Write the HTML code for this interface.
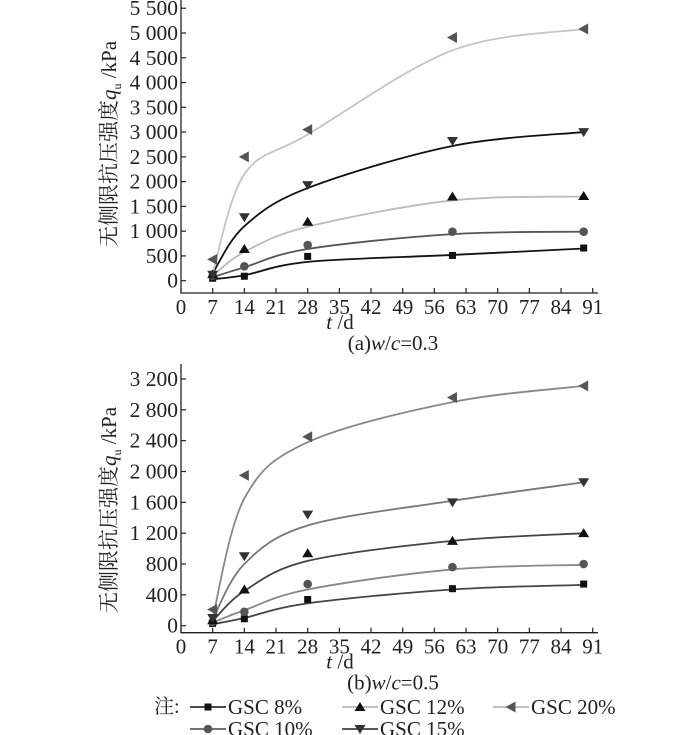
<!DOCTYPE html>
<html><head><meta charset="utf-8"><style>
html,body{margin:0;padding:0;background:#fff;width:700px;height:735px;overflow:hidden}
svg text{font-family:"Liberation Serif","Noto Serif CJK SC",serif;fill:#222}
</style></head><body>
<svg id="chart" width="700" height="735" viewBox="0 0 700 735" xmlns="http://www.w3.org/2000/svg"></svg>
<script>
const days = [7,14,28,60,89];
const seriesNames = ['GSC 8%','GSC 10%','GSC 12%','GSC 15%','GSC 20%'];
const xTicks = [0,7,14,21,28,35,42,49,56,63,70,77,84,91];
// panel a (w/c=0.3) measured
const a8 = [50,90,490,510,660];
const a10 = [100,290,720,990,990];
const a12 = [130,640,1190,1700,1710];
const a15 = [120,1280,1930,2820,3000];
const a20 = [430,2500,3050,4910,5080];
// panel a fitted curves
const aFit8 = [30,110,380,520,650];
const aFit10 = [70,270,640,940,990];
const aFit12 = [100,580,1090,1620,1700];
const aFit15 = [150,1100,1870,2720,3000];
const aFit20 = [150,2150,2950,4650,5080];
const aYTicks = [0,500,1000,1500,2000,2500,3000,3500,4000,4500,5000,5500];
const aYLabels = ['0','500','1 000','1 500','2 000','2 500','3 000','3 500','4 000','4 500','5 000','5 500'];
// panel b (w/c=0.5)
const b8 = [30,90,340,480,540];
const b10 = [50,180,540,760,800];
const b12 = [70,470,940,1100,1200];
const b15 = [100,900,1440,1600,1860];
const b20 = [210,1950,2450,2960,3110];
const bFit8 = [20,100,290,470,530];
const bFit10 = [40,200,470,730,790];
const bFit12 = [60,450,840,1100,1200];
const bFit15 = [80,800,1300,1620,1860];
const bFit20 = [100,1650,2380,2900,3110];
const bYTicks = [0,400,800,1200,1600,2000,2400,2800,3200];
const bYLabels = ['0','400','800','1 200','1 600','2 000','2 400','2 800','3 200'];

const NS='http://www.w3.org/2000/svg';
const svg=document.getElementById('chart');
function mk(tag,attrs,parent){const e=document.createElementNS(NS,tag);for(const k in attrs)e.setAttribute(k,attrs[k]);(parent||svg).appendChild(e);return e;}
const xs=d=>181+d*(31.67/7);
const markerFill=['#111','#555','#111','#333','#555'];

function marker(type,x,y,g,c){
  let e;
  if(type===0) e=mk('rect',{x:x-3.5,y:y-3.5,width:7,height:7,fill:c},g);
  else if(type===1) e=mk('circle',{cx:x,cy:y,r:4.3,fill:c},g);
  else if(type===2) e=mk('polygon',{points:`${x},${y-5} ${x-5.5},${y+4} ${x+5.5},${y+4}`,fill:c},g);
  else if(type===3) e=mk('polygon',{points:`${x},${y+5} ${x-5.5},${y-4} ${x+5.5},${y-4}`,fill:c},g);
  else e=mk('polygon',{points:`${x-5.5},${y} ${x+4.5},${y-5.5} ${x+4.5},${y+5.5}`,fill:c},g);
  return e;
}
function smooth(pts){
  let d=`M${pts[0][0]},${pts[0][1]}`;
  for(let i=0;i<pts.length-1;i++){
    const p0=pts[Math.max(0,i-1)],p1=pts[i],p2=pts[i+1],p3=pts[Math.min(pts.length-1,i+2)];
    const c1=[p1[0]+(p2[0]-p0[0])/6,p1[1]+(p2[1]-p0[1])/6];
    const c2=[p2[0]-(p3[0]-p1[0])/6,p2[1]-(p3[1]-p1[1])/6];
    d+=` C${c1[0]},${c1[1]} ${c2[0]},${c2[1]} ${p2[0]},${p2[1]}`;
  }
  return d;
}
function panel(cfg){
  const g=mk('g',{});
  
  
  const ys=v=>cfg.y0-v*cfg.scale;
  const ax=mk('path',{d:`M181,${cfg.top} V${cfg.axisY} H598`,stroke:'#222','stroke-width':1.3,fill:'none'},g);
  
  
  xTicks.forEach(t=>{
    mk('line',{x1:xs(t),x2:xs(t),y1:cfg.axisY,y2:cfg.axisY-5,stroke:'#222','stroke-width':1.2},g);
    const tx=mk('text',{x:xs(t),y:cfg.axisY+21,'text-anchor':'middle','font-size':21},g);
    tx.textContent=t;
    
    
  });
  cfg.yTicks.forEach((t,i)=>{
    mk('line',{x1:181,x2:186,y1:ys(t),y2:ys(t),stroke:'#222','stroke-width':1.2},g);
    const tx=mk('text',{x:178,y:ys(t)+7,'text-anchor':'end','font-size':21.5},g);
    tx.textContent=cfg.yLabels[i];
    
    
  });
  const yt=mk('text',{transform:`translate(116,${cfg.labelY}) rotate(-90)`,'text-anchor':'middle','font-size':21},g);
  yt.innerHTML='无侧限抗压强度<tspan font-style="italic">q</tspan><tspan font-size="12" dy="5">u</tspan><tspan dy="-5"> /kPa</tspan>';
  
  
  const xt=mk('text',{x:388,y:cfg.axisY+36,'text-anchor':'middle','font-size':21},g);
  xt.innerHTML='<tspan font-style="italic">t</tspan> /d';
  xt.setAttribute('x',340);
  
  
  const cap=mk('text',{x:393,y:cfg.axisY+57,'text-anchor':'middle','font-size':21},g);
  cap.innerHTML=cfg.cap;
  
  
  cfg.fits.forEach((f,s)=>{
    const p=mk('path',{d:smooth(f.map((v,i)=>[xs(days[i]),ys(v)])),stroke:cfg.lineColors[s],'stroke-width':1.8,fill:'none'},g);
    
    
  });
  cfg.data.forEach((d,s)=>{
    d.forEach((v,i)=>{
      const m=marker(s,xs(days[i]),ys(v),g,markerFill[s]);
      
      
    });
  });
}
panel({name:'panel-a',top:0,axisY:293,y0:280.7,scale:24.77/500,yTicks:aYTicks,yLabels:aYLabels,labelY:144,
  cap:'(a)<tspan font-style="italic">w</tspan>/<tspan font-style="italic">c</tspan>=0.3',
  data:[a8,a10,a12,a15,a20],fits:[aFit8,aFit10,aFit12,aFit15,aFit20],
  lineColors:['#111','#555','#bbb','#111','#c4c4c4']});
panel({name:'panel-b',top:364,axisY:632.7,y0:625.7,scale:30.84/400,yTicks:bYTicks,yLabels:bYLabels,labelY:510,
  cap:'(b)<tspan font-style="italic">w</tspan>/<tspan font-style="italic">c</tspan>=0.5',
  data:[b8,b10,b12,b15,b20],fits:[bFit8,bFit10,bFit12,bFit15,bFit20],
  lineColors:['#444','#888','#444','#777','#888']});
// legend
const lg=mk('g',{});


const note=mk('text',{x:154,y:713,'font-size':20},lg);
note.textContent='注:';
const legPos=[[190,707],[190,729],[342,707],[342,729],[493,707]];
const legLine=['#111','#444','#aaa','#222','#aaa'];
seriesNames.forEach((n,s)=>{
  const [x,y]=legPos[s];
  const e=mk('g',{},lg);
  
  
  mk('line',{x1:x,x2:x+36,y1:y,y2:y,stroke:legLine[s],'stroke-width':1.6},e);
  marker(s,x+18,y,e,markerFill[s]);
  const t=mk('text',{x:x+38,y:y+7,'font-size':21},e);
  t.textContent=n;
});
</script>
</body></html>
